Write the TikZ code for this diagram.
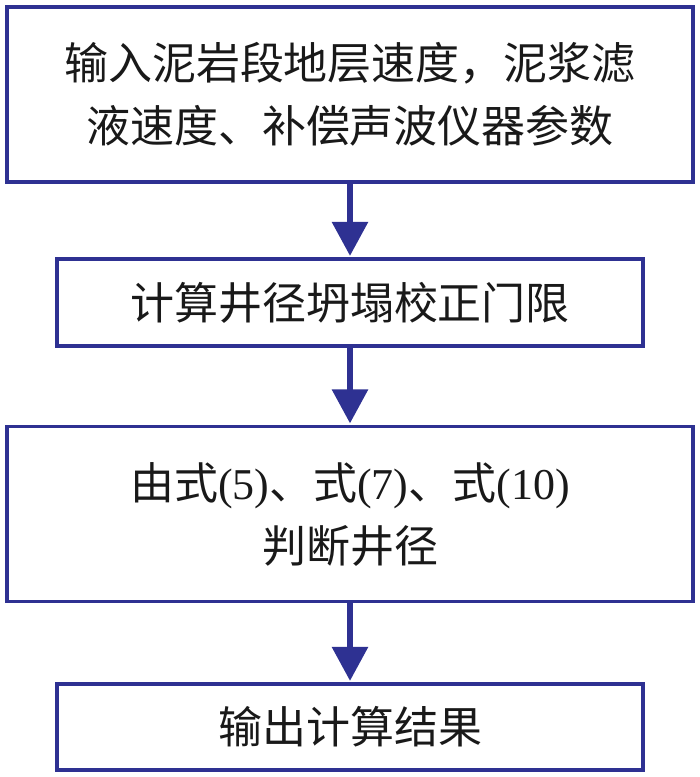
\documentclass[tikz,border=0pt]{standalone}
\usepackage{fontspec}
\setmainfont{Liberation Serif}
\newfontfamily\cjk{Noto Sans CJK SC}
\usetikzlibrary{arrows.meta}
\definecolor{fblue}{HTML}{2E3192}
\tikzset{
  box/.style={draw=fblue, line width=3.2pt, inner sep=0pt, align=center,
    text=black!90, font=\fontsize{44pt}{63pt}\selectfont},
  arr/.style={draw=fblue, line width=6pt, -{Triangle[length=34pt,width=35pt]}, shorten >=1.5pt}
}
\begin{document}
\begin{tikzpicture}[x=1pt,y=-1pt]
\useasboundingbox (0,0) rectangle (700,777);
\node[box, minimum width=686pt, minimum height=175pt] (b1) at (350,94.5)
  {\cjk 输入泥岩段地层速度，泥浆滤\\\cjk 液速度、补偿声波仪器参数};
\node[box, minimum width=586pt, minimum height=87pt] (b2) at (350,302.5)
  {\cjk 计算井径坍塌校正门限};
\node[box, minimum width=686pt, minimum height=175pt] (b3) at (350,514)
  {{\cjk 由式}(5){\cjk 、式}(7){\cjk 、式}(10)\\\cjk 判断井径};
\node[box, minimum width=586pt, minimum height=86pt] (b4) at (350,727)
  {\cjk 输出计算结果};
\draw[arr] (b1.south) -- (b2.north);
\draw[arr] (b2.south) -- (b3.north);
\draw[arr] (b3.south) -- (b4.north);
\end{tikzpicture}
\end{document}
